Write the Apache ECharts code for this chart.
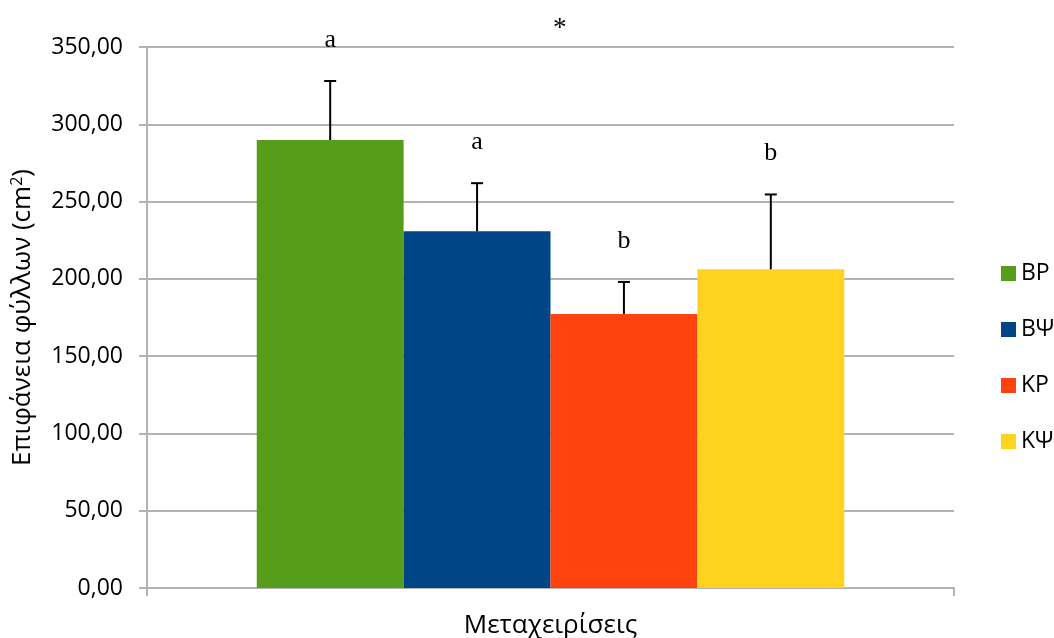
<!DOCTYPE html>
<html><head><meta charset="utf-8">
<script src="https://cdn.jsdelivr.net/npm/echarts@6/dist/echarts.min.js"></script>
<style>html,body{margin:0;padding:0;background:#fff}#c{width:1054px;height:638px}</style>
</head><body><div id="c"></div>
<script>
var seriesNames = ['ΒΡ', 'ΒΨ', 'ΚΡ', 'ΚΨ'];
var means = [289.8, 230.8, 177.3, 206.2];
var errors = [38.2, 31.1, 20.7, 48.4];
var letters = ['a', 'a', 'b', 'b'];
var colors = ['#579d1c', '#004586', '#ff420e', '#ffd320'];
var yTicks = [0, 50, 100, 150, 200, 250, 300, 350];

var gapPct = 27.2;
var chart = echarts.init(document.getElementById('c'));
var series = [];
seriesNames.forEach(function (n, i) {
  series.push({
    name: n, type: 'bar', data: [means[i]], barGap: 0, barCategoryGap: gapPct + '%',
    itemStyle: { color: colors[i] }, z: 2
  });
});
series.push({
  type: 'custom', name: 'err', z: 5, clip: false, silent: true,
  data: means.map(function (m, i) { return [0, m, errors[i], i]; }),
  renderItem: function (params, api) {
    var i = api.value(3);
    var base = api.coord([0, api.value(1)]);
    var top = api.coord([0, api.value(1) + api.value(2)]);
    var band = api.size([1, 0])[0];
    var bw = band * (1 - gapPct / 100) / seriesNames.length;
    var x = base[0] + (i - (seriesNames.length - 1) / 2) * bw;
    var cap = 6;
    return {
      type: 'group', children: [
        { type: 'line', shape: { x1: x, y1: base[1], x2: x, y2: top[1] }, style: { stroke: '#000', lineWidth: 2 } },
        { type: 'line', shape: { x1: x - cap, y1: top[1], x2: x + cap, y2: top[1] }, style: { stroke: '#000', lineWidth: 2 } },
        { type: 'text', style: { text: letters[i], x: x, y: top[1] - 41, align: 'center', verticalAlign: 'middle', font: '26px "Liberation Serif"', fill: '#000' } }
      ]
    };
  }
});

chart.setOption({
  animation: false,
  title: { text: '*', left: 548, top: 10, textStyle: { fontFamily: 'Liberation Serif', fontSize: 27, fontWeight: 'normal', color: '#000' } },
  legend: {
    data: seriesNames, orient: 'vertical', left: 996, top: 257, itemWidth: 15, itemHeight: 15, itemGap: 33,
    icon: 'rect', textStyle: { fontFamily: 'Open Sans', fontSize: 23, color: '#000', padding: [0, 0, 0, 0] }
  },
  grid: { left: 147, right: 100, top: 47, bottom: 50, containLabel: false, outerBoundsMode: 'none' },
  xAxis: {
    type: 'category', data: [''],
    name: 'Μεταχειρίσεις', nameLocation: 'middle', nameGap: 25,
    nameTextStyle: { fontFamily: 'Open Sans', fontSize: 26, color: '#000' },
    axisLine: { lineStyle: { color: '#b3b3b3', width: 2 } },
    axisTick: { show: true, length: 8, lineStyle: { color: '#b3b3b3', width: 2 } },
    axisLabel: { show: false }
  },
  yAxis: {
    type: 'value', min: yTicks[0], max: yTicks[yTicks.length - 1], interval: yTicks[1] - yTicks[0],
    name: 'Επιφάνεια φύλλων (cm{sup|2})', nameLocation: 'middle', nameGap: 110, nameRotate: 90,
    nameTextStyle: { fontFamily: 'Open Sans', fontSize: 26, color: '#000',
      rich: { sup: { fontFamily: 'Open Sans', fontSize: 16, color: '#000', verticalAlign: 'top', padding: [0, 0, 12, 0] } } },
    axisLine: { show: true, lineStyle: { color: '#b3b3b3', width: 2 } },
    axisTick: { show: true, length: 8, lineStyle: { color: '#b3b3b3', width: 2 } },
    axisLabel: { margin: 24, fontFamily: 'Open Sans', fontSize: 23, color: '#000',
      formatter: function (v) { return v.toFixed(2).replace('.', ','); } },
    splitLine: { lineStyle: { color: '#b3b3b3', width: 2 } }
  },
  series: series
});
</script></body></html>
